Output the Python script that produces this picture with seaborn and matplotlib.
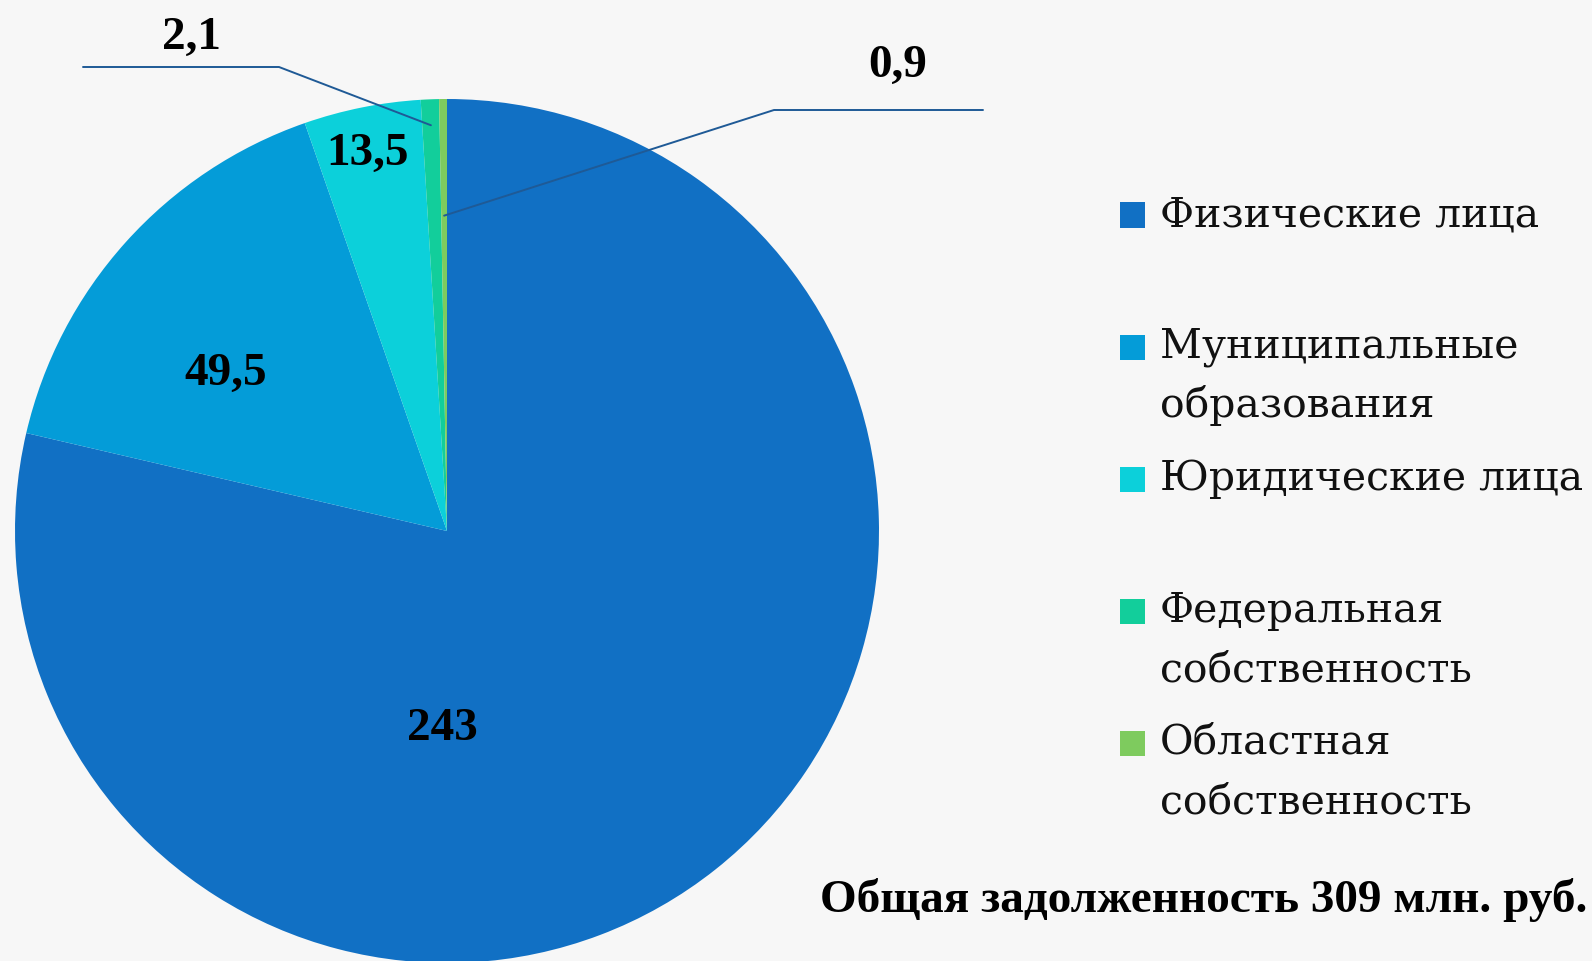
import numpy as np
import matplotlib
matplotlib.use("Agg")
import matplotlib.pyplot as plt
import seaborn as sns
from matplotlib.patches import Rectangle

# ---- data ----
categories = ["Физические лица", "Муниципальные\nобразования", "Юридические лица",
              "Федеральная\nсобственность", "Областная\nсобственность"]
values = [243, 49.5, 13.5, 2.1, 0.9]
value_labels = ["243", "49,5", "13,5", "2,1", "0,9"]
hex_colors = ["#1170C4", "#049CD8", "#0CD0DA", "#12CE9B", "#7ECB5E"]
title_text = "Общая задолженность 309 млн. руб."

sns.set_theme(style="white")
plt.rcParams['font.family'] = ['Liberation Serif', 'DejaVu Serif']
palette = sns.color_palette(hex_colors)

W, H = 1592, 961
bg = "#f7f7f7"
fig = plt.figure(figsize=(W / 100, H / 100), dpi=100, facecolor=bg)

# pie axes: center (447, 531) px, radius 432 px
cx, cy, R = 447, 531, 432
ax = fig.add_axes([(cx - R) / W, (H - cy - R) / H, 2 * R / W, 2 * R / H])
ax.set_facecolor(bg)
ax.axis("off")

wedges, _ = ax.pie(values, colors=palette, startangle=90, counterclock=False,
                   radius=1.0, wedgeprops=dict(linewidth=0))
ax.set_xlim(-1, 1)
ax.set_ylim(-1, 1)
ax.set_aspect("equal")

def px2d(px, py):
    return ((px - cx) / R, (cy - py) / R)

# label placements (layout, in pixels)
label_pos = [(442, 729), (226, 374), (368, 154), (192, 38), (898, 66)]
label_style = dict(fontsize=34, fontweight="bold", color="black",
                   ha="center", va="center", family=["Liberation Serif", "DejaVu Serif"])
for lab, (px, py) in zip(value_labels, label_pos):
    x, y = px2d(px, py)
    ax.text(x, y, lab, **label_style)

# leader lines for the two tiny slices, anchored on wedge mid-angles
line_color = "#1F5A96"
def wedge_anchor(w, r):
    mid = np.deg2rad((w.theta1 + w.theta2) / 2)
    return r * np.cos(mid), r * np.sin(mid)

# 2,1
ax_, ay_ = wedge_anchor(wedges[3], 0.94)
e1 = px2d(279, 67)
e2 = px2d(83, 67)
ax.plot([ax_, e1[0], e2[0]], [ay_, e1[1], e2[1]], color=line_color, lw=1.4, clip_on=False)
# 0,9
bx, by = wedge_anchor(wedges[4], 0.73)
f1 = px2d(774, 110)
f2 = px2d(983, 110)
ax.plot([bx, f1[0], f2[0]], [by, f1[1], f2[1]], color=line_color, lw=1.4, clip_on=False)

# ---- legend (manual, to match slot layout) ----
sq = 25
sq_x = 1120
txt_x = 1160
slot_y0, slot_step, line_step = 215, 132, 59
for i, (cat, col) in enumerate(zip(categories, palette)):
    y0 = slot_y0 + i * slot_step
    fig.patches.append(Rectangle((sq_x / W, (H - y0 - sq / 2) / H), sq / W, sq / H,
                                 transform=fig.transFigure, facecolor=col,
                                 edgecolor="none"))
    for j, line in enumerate(cat.split("\n")):
        fig.text(txt_x / W, (H - y0 - j * line_step) / H, line,
                 fontsize=29.5, color="#111111", ha="left", va="center",
                 family=["DejaVu Serif"])

# ---- bottom title ----
fig.text(820 / W, (H - 900) / H, title_text, fontsize=34, fontweight="bold",
         color="black", ha="left", va="center",
         family=["Liberation Serif", "DejaVu Serif"])

fig.savefig("out.png", dpi=100, facecolor=bg)
